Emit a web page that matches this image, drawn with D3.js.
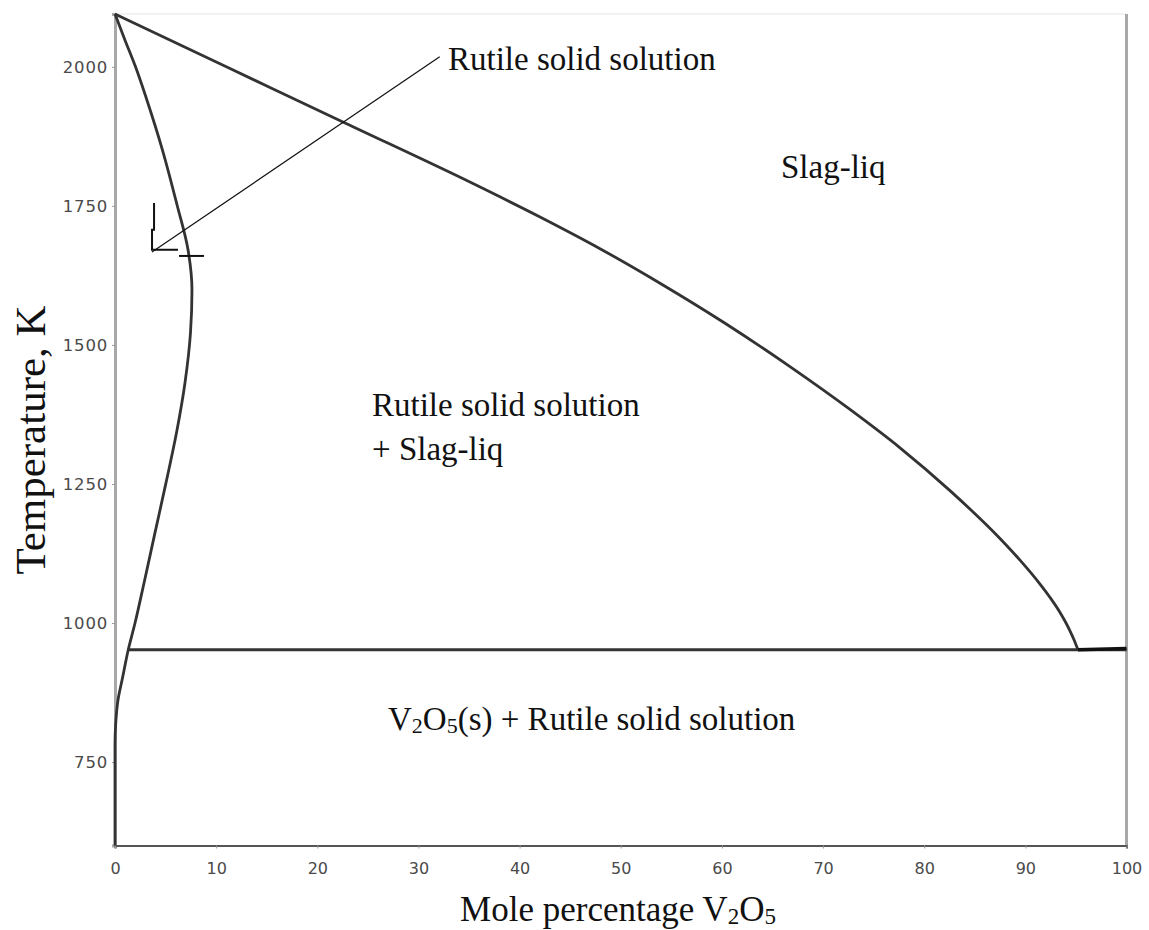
<!DOCTYPE html>
<html>
<head>
<meta charset="utf-8">
<script src="https://cdn.jsdelivr.net/npm/d3@7"></script>
<style>
  html, body { margin: 0; padding: 0; background: #fff; }
  svg { display: block; }
</style>
</head>
<body>
<svg id="chart" width="1149" height="930"></svg>
<script>
// TiO2–V2O5 pseudo-binary phase diagram

// Liquidus (slag-liq boundary): mole % V2O5 vs temperature (K)
const liquidusX = [0, 11.37, 22.74, 35.29, 42.02, 47.95, 53.88, 60.31, 66.73, 72.66, 77.61, 82.55, 87.49, 89.47, 91.45, 92.44, 93.43, 94.02, 94.41, 94.81, 95.2];
const liquidusT = [2095, 1997, 1899, 1791, 1730, 1673, 1611, 1539, 1461, 1384, 1315, 1238, 1152, 1113, 1070, 1046, 1019, 1000, 986, 970, 952];

// Rutile solid-solution boundary
const solidusX = [0, 0.99, 2.03, 3.16, 4.70, 6.13, 7.22, 7.61, 7.46, 6.92, 6.08, 5.04, 3.95, 2.87, 1.98, 1.31, 0.74, 0.30, 0.08, 0, 0];
const solidusT = [2095, 2048, 2000, 1940, 1850, 1752, 1671, 1599, 1521, 1432, 1342, 1252, 1162, 1072, 1000, 952, 901, 862, 822, 781, 600];

// Eutectic isotherm and the short V2O5-side segment
const eutecticX = [1.31, 100];
const eutecticT = [952, 952];
const stubX = [95.2, 100];
const stubT = [952, 954];

// Annotation pointer for the rutile solid solution field
const pointerX = [3.66, 32.1];
const pointerT = [1667, 2018];
const markX = [3.86, 3.86, 3.66, 3.66, 6.23];
const markT = [1755, 1707, 1707, 1671, 1671];
const markX2 = [6.33, 8.8];
const markT2 = [1660, 1660];

// Axis ticks
const xTicks = [0, 10, 20, 30, 40, 50, 60, 70, 80, 90, 100];
const yTicks = [750, 1000, 1250, 1500, 1750, 2000];

const svg = d3.select("#chart");
const plotLeft = 115, plotRight = 1126.5, plotTop = 14, plotBottom = 845.5;

const x = d3.scaleLinear().domain([0, 100]).range([plotLeft, plotRight]);
const y = d3.scaleLinear().domain([600, 2095]).range([plotBottom, plotTop]);

const serif = "'Liberation Serif', 'Times New Roman', serif";
const sans = "'DejaVu Sans', Verdana, sans-serif";

// Frame
svg.append("line").attr("x1", plotLeft).attr("x2", plotRight).attr("y1", plotTop).attr("y2", plotTop)
  .attr("stroke", "#e4e4e4").attr("stroke-width", 1);
svg.append("line").attr("x1", plotRight).attr("x2", plotRight).attr("y1", plotTop).attr("y2", plotBottom)
  .attr("stroke", "#a8a8a8").attr("stroke-width", 3);

// Axes
const yAxis = svg.append("g").attr("transform", `translate(${plotLeft},0)`)
  .call(d3.axisLeft(y).tickValues(yTicks).tickSize(3).tickPadding(4).tickFormat(d3.format("d")));
yAxis.select(".domain").attr("stroke", "#a8a8a8").attr("stroke-width", 3);
yAxis.selectAll(".tick line").attr("stroke", "#999");
yAxis.selectAll(".tick text").attr("fill", "#4a4a4a").style("font-family", sans)
  .style("font-size", "16.5px").style("letter-spacing", "0.8px");

const xAxis = svg.append("g").attr("transform", `translate(0,${plotBottom})`)
  .call(d3.axisBottom(x).tickValues(xTicks).tickSize(3).tickPadding(14).tickFormat(d3.format("d")));
xAxis.select(".domain").attr("stroke", "#555").attr("stroke-width", 2);
xAxis.selectAll(".tick line").attr("stroke", "#999");
xAxis.selectAll(".tick text").attr("fill", "#4a4a4a").style("font-family", sans).style("font-size", "16px");

// Phase boundaries
const line = d3.line().x(d => x(d[0])).y(d => y(d[1]));
const smoothX = d3.line().x(d => x(d[0])).y(d => y(d[1])).curve(d3.curveMonotoneX);
const smoothY = d3.line().x(d => x(d[0])).y(d => y(d[1])).curve(d3.curveMonotoneY);
const zip = (a, b) => a.map((v, i) => [v, b[i]]);

svg.append("path").datum(zip(liquidusX, liquidusT)).attr("d", smoothX)
  .attr("fill", "none").attr("stroke", "#333").attr("stroke-width", 2.8);
svg.append("path").datum(zip(solidusX, solidusT)).attr("d", smoothY)
  .attr("fill", "none").attr("stroke", "#333").attr("stroke-width", 2.8);
svg.append("path").datum(zip(eutecticX, eutecticT)).attr("d", line)
  .attr("fill", "none").attr("stroke", "#333").attr("stroke-width", 3);
svg.append("path").datum(zip(stubX, stubT)).attr("d", line)
  .attr("fill", "none").attr("stroke", "#111").attr("stroke-width", 3.5);

// Annotation
svg.append("path").datum(zip(pointerX, pointerT)).attr("d", line)
  .attr("fill", "none").attr("stroke", "#111").attr("stroke-width", 1.2);
svg.append("path").datum(zip(markX, markT)).attr("d", line)
  .attr("fill", "none").attr("stroke", "#111").attr("stroke-width", 2);
svg.append("path").datum(zip(markX2, markT2)).attr("d", line)
  .attr("fill", "none").attr("stroke", "#111").attr("stroke-width", 2);

// Field labels
function label(xv, tv, parts) {
  const t = svg.append("text").attr("x", x(xv)).attr("y", y(tv))
    .style("font-family", serif).style("font-size", "33px").attr("fill", "#111");
  parts.forEach(p => {
    if (typeof p === "string") t.append("tspan").text(p);
    else t.append("tspan").attr("dy", p.dy).style("font-size", p.size).text(p.text);
  });
  return t;
}

label(32.92, 1994, ["Rutile solid solution"]);
label(65.84, 1800, ["Slag-liq"]);
label(25.41, 1372, ["Rutile solid solution"]);
label(25.41, 1293, ["+ Slag-liq"]);
label(26.99, 808, [
  "V",
  {text: "2", dy: 3, size: "22px"},
  {text: "O", dy: -3, size: "33px"},
  {text: "5", dy: 3, size: "22px"},
  {text: "(s) + Rutile solid solution", dy: -3, size: "33px"}
]);

// Axis titles
const xt = svg.append("text").attr("x", 618).attr("y", 921).attr("text-anchor", "middle")
  .style("font-family", serif).style("font-size", "35px").attr("fill", "#111");
xt.append("tspan").text("Mole percentage V");
xt.append("tspan").attr("dy", 3).style("font-size", "23px").text("2");
xt.append("tspan").attr("dy", -3).text("O");
xt.append("tspan").attr("dy", 3).style("font-size", "23px").text("5");

svg.append("text").attr("transform", "translate(45,440) rotate(-90)")
  .attr("text-anchor", "middle")
  .style("font-family", serif).style("font-size", "43px").attr("fill", "#111")
  .text("Temperature, K");
</script>
</body>
</html>
